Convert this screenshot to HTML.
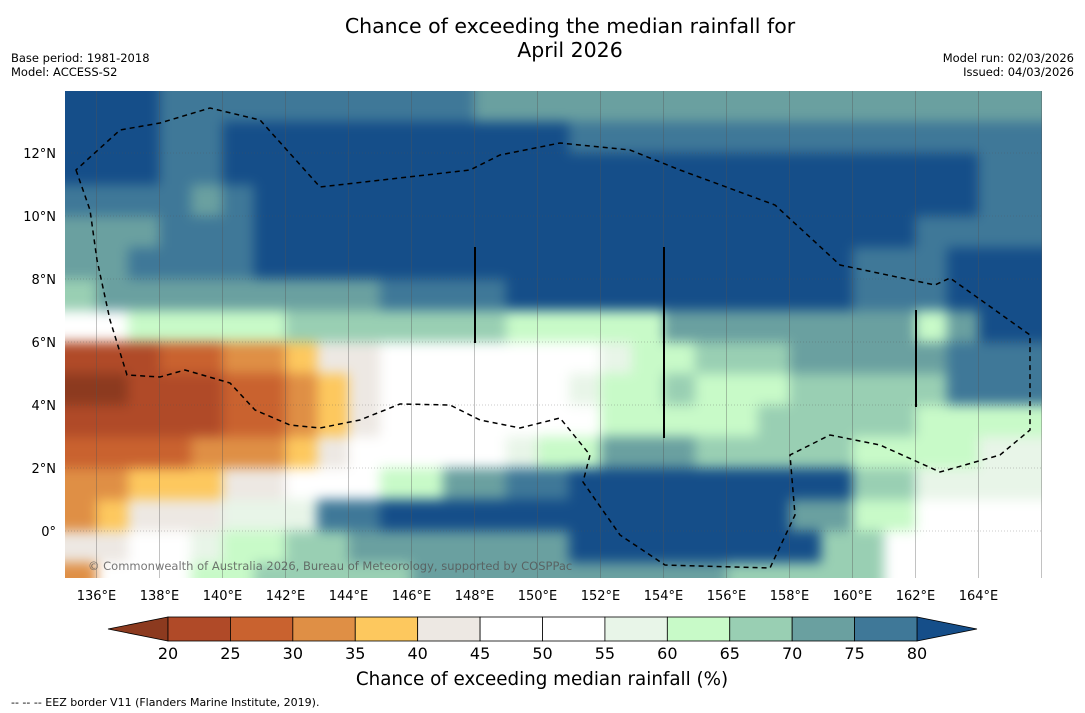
<!DOCTYPE html>
<html><head><meta charset="utf-8">
<style>
body{margin:0;background:#fff;font-family:"DejaVu Sans","Liberation Sans",sans-serif;}
#wrap{position:relative;width:1085px;height:713px;overflow:hidden;background:#fff}
.t{position:absolute;white-space:nowrap;color:#000}
svg text{font-family:"DejaVu Sans","Liberation Sans",sans-serif;}
</style></head><body>
<div id="wrap">
<div class="t" style="left:270px;width:600px;top:14px;text-align:center;font-size:20.5px;line-height:24px">Chance of exceeding the median rainfall for<br>April 2026</div>
<div class="t" style="left:11px;top:51px;font-size:11.5px;line-height:14px">Base period: 1981-2018<br>Model: ACCESS-S2</div>
<div class="t" style="right:11px;top:51px;font-size:11.5px;line-height:14px;text-align:right">Model run: 02/03/2026<br>Issued: 04/03/2026</div>
<svg id="svg" width="1085" height="713" style="position:absolute;left:0;top:0">
<defs>
<clipPath id="mc"><rect x="65" y="91" width="977" height="487"/></clipPath>
<filter id="bl" filterUnits="userSpaceOnUse" x="0" y="40" width="1085" height="600"><feGaussianBlur stdDeviation="6"/></filter>
</defs>
<g id="cells" clip-path="url(#mc)"><g id="cellsInner" filter="url(#bl)"></g></g>
<g id="grid" clip-path="url(#mc)"></g>
<path id="eez" clip-path="url(#mc)" fill="none" stroke="#000" stroke-width="1.5" stroke-dasharray="5,4"
d="M76,170 L90,210 L97,260 L110,320 L127,375 L160,377 L185,370 L230,383 L255,410 L290,425 L320,428 L360,420 L400,404 L450,405 L480,420 L520,428 L560,418 L590,455 L583,482 L620,535 L665,565 L770,568 L795,515 L790,455 L830,435 L880,445 L940,472 L1000,455 L1030,430 L1030,335 L950,278 L935,285 L840,265 L775,205 L680,170 L630,150 L560,143 L500,155 L470,170 L320,187 L260,120 L210,108 L160,123 L120,130 Z"/>
<line x1="475" y1="247" x2="475" y2="343" stroke="#000" stroke-width="2"/>
<line x1="664" y1="247" x2="664" y2="438" stroke="#000" stroke-width="2"/>
<line x1="916" y1="310" x2="916" y2="407" stroke="#000" stroke-width="2"/>
<text x="88" y="570" font-size="11.5" fill="#555" opacity="0.8">© Commonwealth of Australia 2026, Bureau of Meteorology, supported by COSPPac</text>
<g id="xt"></g>
<g id="yt"></g>
<g id="cb"></g>
<text x="542" y="685" font-size="18.3" text-anchor="middle">Chance of exceeding median rainfall (%)</text>
<text x="11" y="706" font-size="11">--  --  -- EEZ border V11 (Flanders Marine Institute, 2019).</text>
</svg>
</div>
<script>
// colour class per cell: 0:<20, 1:20-25 ... c:75-80, d:>80 ; rows from 14N down, cols from 135E
const lonStart = 135, latTop = 14;
const gridRows = [
"dddccccccccccbbbbbbbbbbbbbbbbbb",
"dddccdddddddddddccccccccccccccc",
"dddccddddddddddddddddddddddddcc",
"ccccbcdddddddddddddddddddddddcc",
"bbbcccdddddddddddddddddddddcccc",
"bbccccdddddddddddddddddddcccddd",
"abbbbbbbbbccccdddddddddddcccddd",
"7799999aaaaaaa99999bbbbbbbb9bddd",
"11122334556666677899aaabbbbbccc",
"0011122345666667899a999aaaaacccc",
"1111122345666677799999aaaaa9999",
"2222333456667789 9bbbaaaaa999988",
"33444556679 9bbccdddddddddaa8888",
"34555888ccdddddddddddddbb99777",
"5566899aabbbbbbbddddddddaa77777",
"366699aaaaabbbbbbbbbbaaaaa77777"
].map(s=>s.replace(/ /g,"").padEnd(31,s.slice(-1)).slice(0,31));
const classValues = {"0":17.5,"1":22.5,"2":27.5,"3":32.5,"4":37.5,"5":42.5,"6":47.5,"7":52.5,"8":57.5,"9":62.5,"a":67.5,"b":72.5,"c":77.5,"d":82.5};
const cbLevels = [20,25,30,35,40,45,50,55,60,65,70,75,80];
const xTickLons = [136,138,140,142,144,146,148,150,152,154,156,158,160,162,164];
const yTickLats = [0,2,4,6,8,10,12];
const colors = ["#8c3a1f","#b04a28","#c9622f","#df8f45","#fdc85e","#ede8e3","#ffffff","#ffffff","#e8f5e8","#c8fac8","#99cfb3","#6aa0a0","#3f7898","#154e89"];

const NS="http://www.w3.org/2000/svg";
const pxPerDeg = 31.5;
function xOf(lon){return 65 + (lon-135)*pxPerDeg;}
function yOf(lat){return 153 + (12-lat)*pxPerDeg;}
function colorOf(v){let k=0;for(let i=0;i<cbLevels.length;i++){if(v>=cbLevels[i])k=i+1;}return colors[k];}
function mk(tag,attrs,parent){const e=document.createElementNS(NS,tag);for(const k in attrs)e.setAttribute(k,attrs[k]);parent.appendChild(e);return e;}

const ci=document.getElementById('cellsInner');
ci.style.filter='blur(6px)';
gridRows.forEach((row,r)=>{
  for(let c=0;c<row.length;c++){
    const v=classValues[row[c]];
    const lon=lonStart+c, lat=latTop-r;
    const x0=xOf(lon), x1=xOf(lon+1), y0=yOf(lat), y1=yOf(lat-1);
    const el=mk('rect',{x:x0-(c==0?30:0),y:y0-(r==0?30:0),width:x1-x0+0.6+(c==0?30:0)+(c==row.length-1?40:0),height:y1-y0+0.6+(r==0?30:0)+(r==gridRows.length-1?30:0),fill:colorOf(v)},ci);
    
    
  }
});

const g=document.getElementById('grid');
for(let lon=136;lon<=166;lon+=2){mk('line',{x1:xOf(lon),x2:xOf(lon),y1:91,y2:578,stroke:'#555','stroke-width':0.6,'stroke-opacity':0.6},g);}
for(let lat=0;lat<=14;lat+=2){mk('line',{x1:65,x2:1042,y1:yOf(lat),y2:yOf(lat),stroke:'#555','stroke-width':0.6,'stroke-opacity':0.6,'stroke-dasharray':'1,2'},g);}

const xt=document.getElementById('xt');
xTickLons.forEach(l=>{const t=mk('text',{x:xOf(l),y:600,'font-size':13,'text-anchor':'middle'},xt);t.textContent=l+'°E';

});
const yt=document.getElementById('yt');
yTickLats.forEach(l=>{const t=mk('text',{x:56,y:yOf(l)+5,'font-size':13,'text-anchor':'end'},yt);t.textContent=l===0?'0°':l+'°N';

});

const cb=document.getElementById('cb');
const cbx0=168, cbx1=917, cy0=617, cy1=641;
const segW=(cbx1-cbx0)/(cbLevels.length-1);
mk('polygon',{points:`${cbx0},${cy0} ${cbx0},${cy1} 108,629`,fill:colors[0],stroke:'#000','stroke-width':0.8},cb);
mk('polygon',{points:`${cbx1},${cy0} ${cbx1},${cy1} 977,629`,fill:colors[13],stroke:'#000','stroke-width':0.8},cb);
for(let i=0;i<cbLevels.length-1;i++){
  const r=mk('rect',{x:cbx0+i*segW,y:cy0,width:segW,height:cy1-cy0,fill:colors[i+1],stroke:'#000','stroke-width':0.8},cb);
  
  
}
cbLevels.forEach((v,i)=>{const t=mk('text',{x:cbx0+i*segW,y:659,'font-size':16,'text-anchor':'middle'},cb);t.textContent=v;

});
</script>
</body></html>
